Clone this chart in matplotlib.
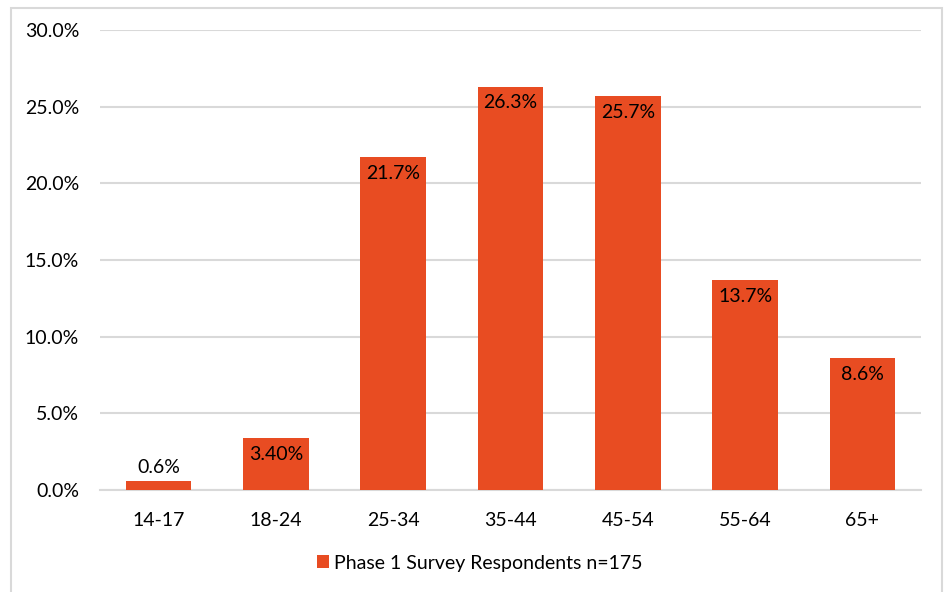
import matplotlib.pyplot as plt
from matplotlib.patches import Rectangle

# age group shares of survey respondents
age_groups = ['14-17', '18-24', '25-34', '35-44', '45-54', '55-64', '65+']
shares = [0.6, 3.4, 21.7, 26.3, 25.7, 13.7, 8.6]
share_labels = ['0.6%', '3.40%', '21.7%', '26.3%', '25.7%', '13.7%', '8.6%']
series_name = 'Phase 1 Survey Respondents n=175'
y_ticks = [0, 5, 10, 15, 20, 25, 30]

bar_color = '#E84C22'
grid_color = '#D9D9D9'
fs = 14

plt.rcParams['font.family'] = ['Lato', 'DejaVu Sans']

fig = plt.figure(figsize=(9.47, 5.92), dpi=100)
ax = fig.add_axes([100 / 947, 1 - 490 / 592, 821 / 947, 460 / 592])

# chart frame around everything
fig.patches.append(Rectangle((11 / 947, -0.05), 931 / 947, 1 - 8 / 592 + 0.05,
                             transform=fig.transFigure, fill=False,
                             edgecolor='#D9D9D9', linewidth=1.5))

x = range(len(age_groups))
bars = ax.bar(x, shares, width=0.56, color=bar_color, label=series_name, zorder=3)

for xi, v, lab in zip(x, shares, share_labels):
    if v < 2:
        ax.text(xi, v + 0.3, lab, ha='center', va='bottom', fontsize=fs, color='black')
    else:
        ax.text(xi, v - 0.5, lab, ha='center', va='top', fontsize=fs, color='black')

ax.set_xlim(-0.5, len(age_groups) - 0.5)
ax.set_ylim(0, 30)
ax.set_yticks(y_ticks)
ax.set_yticklabels(['%.1f%%' % t for t in y_ticks], fontsize=fs)
ax.set_xticks(list(x))
ax.set_xticklabels(age_groups, fontsize=fs)
ax.tick_params(length=0)
ax.tick_params(axis='x', pad=16)
ax.tick_params(axis='y', pad=15)
ax.yaxis.grid(True, color=grid_color, linewidth=1.5, zorder=0)
ax.set_axisbelow(True)
for side in ['top', 'right', 'left']:
    ax.spines[side].set_visible(False)
ax.spines['bottom'].set_color(grid_color)
ax.spines['bottom'].set_linewidth(1.5)

fig.legend(handles=[bars], labels=[series_name], loc='center',
           bbox_to_anchor=(480 / 947, 1 - 563 / 592), frameon=False,
           fontsize=fs, handlelength=0.6, handleheight=0.6, handletextpad=0.3)

fig.savefig('out.png', dpi=100)
